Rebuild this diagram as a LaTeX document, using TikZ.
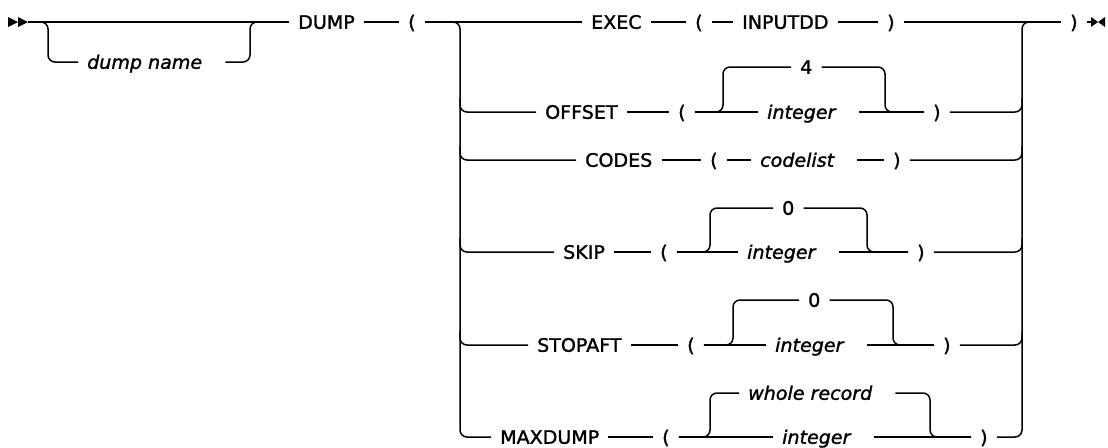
\documentclass[tikz,border=0pt]{standalone}
\usepackage{fontspec}
\setmainfont{DejaVu Sans}[FakeStretch=1.03, FakeBold=1.5]
\usetikzlibrary{calc,positioning}
\newcommand{\railfont}{\fontsize{18.5}{20}\selectfont}
\tikzset{
  rail/.style={line width=1.5pt, rounded corners=7pt},
  kw/.style={anchor=west, inner xsep=9pt, inner ysep=0pt, text height=13.5pt, text depth=0pt, font=\railfont},
  var/.style={kw, font=\railfont\itshape, execute at end node={\hspace*{14pt}}}
}

\begin{document}
\begin{tikzpicture}[x=1pt,y=-1pt]
    \useasboundingbox (0,0) rectangle (1108,447);
    % start and end marks
    \fill (8,17) -- (18,22) -- (8,27) -- cycle;
    \fill (18,17) -- (28,22) -- (18,27) -- cycle;
    \fill (1091,17) -- (1098,22) -- (1091,27) -- cycle;
    \fill (1105,17) -- (1098,22) -- (1105,27) -- cycle;
    \coordinate (start) at (28,22);
    \coordinate (stop) at (1092,22);
    \coordinate (nsplit) at (38,22);
    \coordinate (njoin) at (250,22);
    \coordinate (lsplit) at (452,22);
    \coordinate (lbar) at (460,22);
    \coordinate (rbar) at (1022,22);

    % main line
    \node (dumpname) at (78,62) [var] {dump name};
    \node (dump) at (289,22) [kw] {DUMP};
    \node (dumpopen) at (399,22) [kw] {(};
    \node (exec) at (582,22) [kw] {EXEC};
    \node (execopen) at (686,22) [kw] {(};
    \node (inputdd) at (733,22) [kw] {INPUTDD};
    \node (execclose) at (878,22) [kw] {)};
    \node (close) at (1061,22) [kw] {)};

    % OFFSET
    \node (offset) at (536,112) [kw] {OFFSET};
    \node (offopen) at (669,112) [kw] {(};
    \node (offdef) at (791,67) [kw] {4};
    \node (offint) at (758,112) [var] {integer};
    \node (offclose) at (924,112) [kw] {)};
    \coordinate (offsplit) at (723,67);
    \coordinate (offjoin) at (885,112);

    % CODES
    \node (codes) at (576,160) [kw] {CODES};
    \node (codopen) at (701,160) [kw] {(};
    \node (codlist) at (751,160) [var] {codelist};
    \node (codclose) at (884,160) [kw] {)};

    % SKIP
    \node (skip) at (554,252) [kw] {SKIP};
    \node (skpopen) at (651,252) [kw] {(};
    \node (skpdef) at (773,208) [kw] {0};
    \node (skpint) at (738,252) [var] {integer};
    \node (skpclose) at (908,252) [kw] {)};
    \coordinate (skpsplit) at (710,208);
    \coordinate (skpjoin) at (867,252);

    % STOPAFT
    \node (stopaft) at (528,345) [kw] {STOPAFT};
    \node (stpopen) at (678,345) [kw] {(};
    \node (stpdef) at (799,300) [kw] {0};
    \node (stpint) at (766,345) [var] {integer};
    \node (stpclose) at (934,345) [kw] {)};
    \coordinate (stpsplit) at (733,300);
    \coordinate (stpjoin) at (893,345);

    % MAXDUMP
    \node (maxdump) at (491,437) [kw] {MAXDUMP};
    \node (maxopen) at (653,437) [kw] {(};
    \node (maxdef) at (739,393) [var] {whole record};
    \node (maxint) at (773,437) [var] {integer};
    \node (maxclose) at (971,437) [kw] {)};
    \coordinate (maxsplit) at (710,393);
    \coordinate (maxjoin) at (930,437);

    \draw[rail] (start) -- (dump.west);
    \draw[rail] (nsplit) -- ++(10,0) |- (dumpname.west);
    \draw[rail] (dumpname.east) -| (njoin) -- ++(8,0);
    \draw[rail] (dump.east) -- (dumpopen.west);
    \draw[rail] (dumpopen.east) -- (exec.west);
    \draw[rail] (exec.east) -- (execopen.west);
    \draw[rail] (execopen.east) -- (inputdd.west);
    \draw[rail] (inputdd.east) -- (execclose.west);
    \draw[rail] (execclose.east) -- (close.west);
    \draw[rail] (close.east) -- (stop);

    % left and right bars
    \draw[rail] (lsplit) -- ++(8,0) |- (maxdump.west);
    \draw[rail] (maxclose.east) -| (rbar) -- ++(8,0);
    \foreach \kwd/\cls in {offset/offclose, codes/codclose, skip/skpclose, stopaft/stpclose} {
        \draw[rail] ($(\kwd.west -| lbar)+(0,-14)$) |- (\kwd.west);
        \draw[rail] (\cls.east) -| ($(\cls.east -| rbar)+(0,-14)$);
    }

    % OFFSET row
    \draw[rail] (offset.east) -- (offopen.west);
    \draw[rail] (offopen.east) -- (offint.west);
    \draw[rail] (offopen.east) -| (offsplit) -- (offdef.west);
    \draw[rail] (offdef.east) -| (offjoin) -- (offclose.west);
    \draw[rail] (offint.east) -- (offclose.west);

    % CODES row
    \draw[rail] (codes.east) -- (codopen.west);
    \draw[rail] (codopen.east) -- (codlist.west);
    \draw[rail] (codlist.east) -- (codclose.west);

    % SKIP row
    \draw[rail] (skip.east) -- (skpopen.west);
    \draw[rail] (skpopen.east) -- (skpint.west);
    \draw[rail] (skpopen.east) -| (skpsplit) -- (skpdef.west);
    \draw[rail] (skpdef.east) -| (skpjoin) -- (skpclose.west);
    \draw[rail] (skpint.east) -- (skpclose.west);

    % STOPAFT row
    \draw[rail] (stopaft.east) -- (stpopen.west);
    \draw[rail] (stpopen.east) -- (stpint.west);
    \draw[rail] (stpopen.east) -| (stpsplit) -- (stpdef.west);
    \draw[rail] (stpdef.east) -| (stpjoin) -- (stpclose.west);
    \draw[rail] (stpint.east) -- (stpclose.west);

    % MAXDUMP row
    \draw[rail] (maxdump.east) -- (maxopen.west);
    \draw[rail] (maxopen.east) -- (maxint.west);
    \draw[rail] (maxopen.east) -| (maxsplit) -- (maxdef.west);
    \draw[rail] (maxdef.east) -| (maxjoin) -- (maxclose.west);
    \draw[rail] (maxint.east) -- (maxclose.west);
\end{tikzpicture}
\end{document}
